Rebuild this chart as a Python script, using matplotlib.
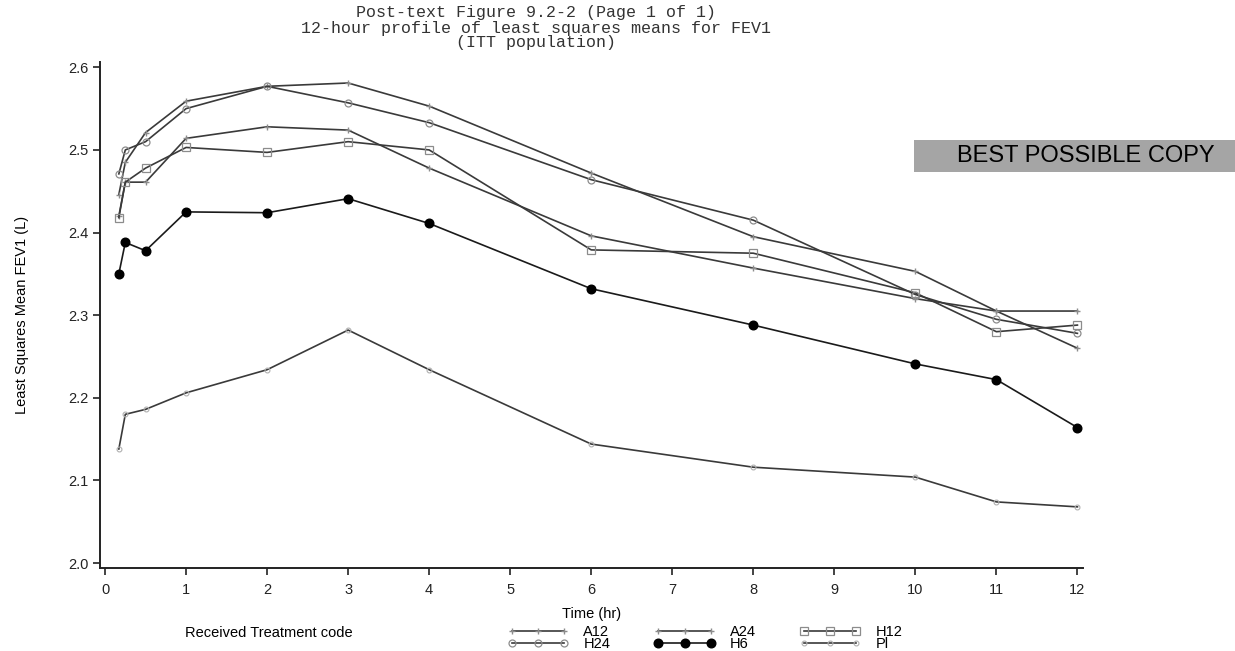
import matplotlib.pyplot as plt
from matplotlib.patches import Rectangle

# sampling times (hours after dose)
times = [0.17, 0.25, 0.5, 1, 2, 3, 4, 6, 8, 10, 11, 12]

# least squares mean FEV1 (L) by treatment
a12 = [2.420, 2.461, 2.461, 2.514, 2.528, 2.524, 2.478, 2.396, 2.357, 2.320, 2.305, 2.305]
a24 = [2.446, 2.485, 2.521, 2.559, 2.577, 2.581, 2.553, 2.472, 2.395, 2.353, 2.305, 2.260]
h12 = [2.418, 2.461, 2.478, 2.503, 2.497, 2.510, 2.500, 2.379, 2.375, 2.327, 2.280, 2.288]
h24 = [2.471, 2.500, 2.510, 2.550, 2.577, 2.557, 2.533, 2.464, 2.415, 2.325, 2.295, 2.278]
h6 = [2.350, 2.388, 2.378, 2.425, 2.424, 2.441, 2.411, 2.332, 2.288, 2.241, 2.222, 2.164]
pl = [2.138, 2.180, 2.186, 2.206, 2.234, 2.282, 2.234, 2.144, 2.116, 2.104, 2.074, 2.068]

x_ticks = [0, 1, 2, 3, 4, 5, 6, 7, 8, 9, 10, 11, 12]
y_ticks = [2.0, 2.1, 2.2, 2.3, 2.4, 2.5, 2.6]

plt.rcParams['font.family'] = ['Liberation Sans', 'DejaVu Sans']

fig = plt.figure(figsize=(12.35, 6.51), dpi=100)
ax = fig.add_axes([0.081, 0.1275, 0.796, 0.778])

line_col = '#3a3a3a'
mark_col = '#8c8c8c'

l_a12, = ax.plot(times, a12, color=line_col, lw=1.2, marker='+', ms=4,
                 mec=mark_col, label='A12')
l_a24, = ax.plot(times, a24, color=line_col, lw=1.2, marker='+', ms=4,
                 mec=mark_col, label='A24')
l_h12, = ax.plot(times, h12, color=line_col, lw=1.2, marker='s', ms=5.5,
                 mfc='none', mec=mark_col, mew=0.9, label='H12')
l_h24, = ax.plot(times, h24, color=line_col, lw=1.2, marker='o', ms=5,
                 mfc='none', mec=mark_col, mew=0.9, label='H24')
l_h6, = ax.plot(times, h6, color='#1a1a1a', lw=1.2, marker='o', ms=6.2,
                mfc='black', mec='black', label='H6')
l_pl, = ax.plot(times, pl, color=line_col, lw=1.2, marker='o', ms=3.5,
                mfc='none', mec='#b0b0b0', mew=0.8, label='Pl')

ax.set_xlim(-0.062, 12.07)
ax.set_ylim(1.994, 2.607)
ax.set_xticks(x_ticks)
ax.set_yticks(y_ticks)
ax.set_yticklabels([f'{v:.1f}' for v in y_ticks])
ax.tick_params(direction='out', length=5, width=1.2, labelsize=10.5,
               colors='#222222')
ax.tick_params(axis='x', pad=6)
for side in ['top', 'right']:
    ax.spines[side].set_visible(False)
for side in ['left', 'bottom']:
    ax.spines[side].set_linewidth(1.4)
    ax.spines[side].set_color('#222222')

ax.set_xlabel('Time (hr)', fontsize=10.5, labelpad=7)
ax.set_ylabel('Least Squares Mean FEV1 (L)', fontsize=10.5, labelpad=28)

# three-line monospace title
title_lines = ['Post-text Figure 9.2-2 (Page 1 of 1)',
               '12-hour profile of least squares means for FEV1',
               '(ITT population)']
for i, t in enumerate(title_lines):
    fig.text(536 / 1235, 1 - (13 + 15 * i) / 651, t, family='Liberation Mono',
             fontsize=12, ha='center', va='center', color='#333333')

# legend: row 1 A12 A24 H12, row 2 H24 H6 Pl
fig.text(0.15, 1 - 633 / 651, 'Received Treatment code', fontsize=10.5,
         va='center', ha='left')
fig.legend(handles=[l_a12, l_h24, l_a24, l_h6, l_h12, l_pl], ncol=3,
           loc='center left', bbox_to_anchor=(0.405, 1 - 638 / 651),
           frameon=False, fontsize=10.5, handlelength=4.2, numpoints=3,
           handletextpad=1.0, columnspacing=3.0, labelspacing=-0.12,
           borderpad=0)

# stamp in the upper right
fig.patches.append(Rectangle((914 / 1235, 1 - 172 / 651), 321 / 1235, 32 / 651,
                             transform=fig.transFigure, facecolor='#a5a5a5',
                             edgecolor='none'))
fig.text(1086 / 1235, 1 - 156 / 651, 'BEST POSSIBLE COPY', fontsize=17,
         ha='center', va='center', color='black')

fig.savefig('out.png', dpi=100, facecolor='white')
